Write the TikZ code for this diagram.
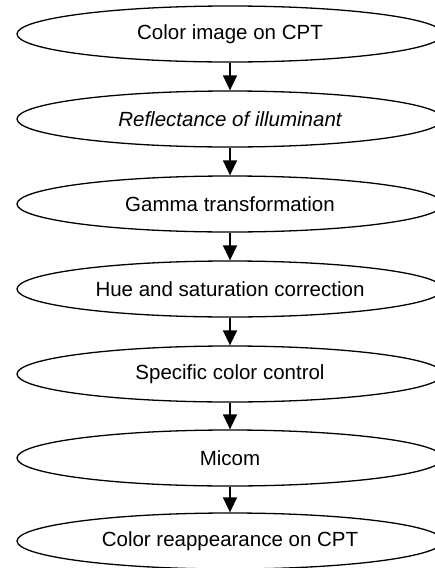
\documentclass[tikz,border=0pt]{standalone}
\usepackage{fontspec}
\setmainfont{Liberation Sans}
\usetikzlibrary{shapes.geometric,arrows.meta}
\begin{document}
\begin{tikzpicture}[x=1pt,y=-1pt,
  stage/.style={ellipse,draw=black,line width=1.3pt,minimum width=426pt,minimum height=56pt,inner sep=0pt,font=\fontsize{20.5}{24}\selectfont},
  flow/.style={line width=1.5pt,-{Triangle[width=14pt,length=15pt]}}]
\useasboundingbox (0,0) rectangle (435,568);
\node[stage] (e1) at (230,34) {Color image on CPT};
\node[stage] (e2) at (230,119) {\itshape Reflectance of illuminant};
\node[stage] (e3) at (230,204) {Gamma transformation};
\node[stage] (e4) at (230,289) {Hue and saturation correction};
\node[stage] (e5) at (230,374) {Specific color control};
\node[stage] (e6) at (230,458) {Micom};
\node[stage] (e7) at (230,541) {Color reappearance on CPT};
\draw[flow] (e1.south) -- (e2.north);
\draw[flow] (e2.south) -- (e3.north);
\draw[flow] (e3.south) -- (e4.north);
\draw[flow] (e4.south) -- (e5.north);
\draw[flow] (e5.south) -- (e6.north);
\draw[flow] (e6.south) -- (e7.north);
\end{tikzpicture}
\end{document}
